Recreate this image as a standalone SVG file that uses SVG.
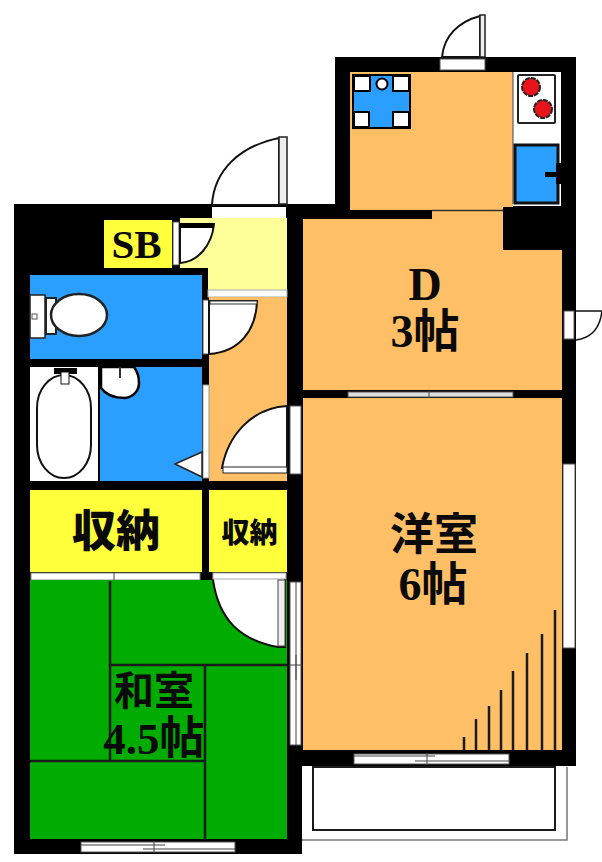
<svg xmlns="http://www.w3.org/2000/svg" width="602" height="862" viewBox="0 0 602 862">
<style>
.w{fill:#000}.o{fill:#ffbf66}.g{fill:#00ac00}.b{fill:#2b9fff}.y{fill:#ffff3c}.p{fill:#ffff99}.f{fill:#fff}
.s{fill:#fff;stroke:#555;stroke-width:1}
.d{fill:#fff;stroke:#111;stroke-width:2}
.l{stroke:#1a1a1a;stroke-width:2.500;fill:none}
.t{stroke:#444;stroke-width:1;fill:none}
text{font-family:"Liberation Serif","Noto Sans CJK JP",serif;font-weight:700;fill:#0a0a0a;text-anchor:middle}
.j{font-family:"Noto Sans CJK JP","Liberation Serif",serif;font-weight:900}
</style>
<rect width="602" height="862" fill="#fff"/>
<g id="walls">
<rect class="w" x="14" y="204" width="288" height="650"/>
<rect class="w" x="287" y="204" width="145" height="15"/>
<rect class="w" x="335" y="57" width="241" height="163"/>
<rect class="w" x="287" y="204" width="289" height="562"/>
</g>
<g id="kitchen">
<rect class="o" x="350" y="72" width="163" height="138"/>
<rect class="f" x="513" y="72" width="48" height="134"/>
<path class="t" d="M513 72V204"/>
<g id="table">
<rect class="b" x="353" y="75" width="57" height="53" stroke="#000" stroke-width="2"/>
<path d="M354 76h16v15h-16zM393 76h16v15h-16zM354 112h15v15h-15zM393 112h16v15h-16z" fill="#fff" stroke="#000" stroke-width="2"/>
<circle cx="382" cy="84" r="5.500" fill="#fff" stroke="#000" stroke-width="2"/>
</g>
<g id="stove">
<rect x="518" y="75" width="37" height="48" rx="1" fill="#fff" stroke="#222" stroke-width="2"/>
<circle cx="531" cy="87" r="9" fill="#e8141c" stroke="#222" stroke-width="2" stroke-dasharray="5 1"/>
<circle cx="543" cy="109" r="9" fill="#e8141c" stroke="#222" stroke-width="2" stroke-dasharray="5 1"/>
</g>
<g id="sink">
<rect class="b" x="515" y="145" width="43" height="58" stroke="#111" stroke-width="3"/>
<path d="M545 174.500H561" stroke="#000" stroke-width="5"/>
<rect class="w" x="556" y="163" width="5" height="21"/>
</g>
<g id="kitchen-door">
<rect class="s" x="440" y="59" width="45" height="11"/>
<path d="M442 57C444 36 458 22 480 16V57Z" fill="#fff" stroke="#111" stroke-width="2"/>
<rect x="480" y="15" width="5" height="42" fill="#eee" stroke="#222" stroke-width="1.500"/>
</g>
</g>
<g id="room-d">
<rect class="o" x="303" y="219" width="259" height="171"/>
<rect class="o" x="432" y="211" width="71" height="10"/>
<path d="M432 210.500H503" stroke="#333" stroke-width="1.500"/>
<path class="w" d="M503 207H562V250H503Z"/>
<rect x="348" y="392" width="165" height="5" fill="#ddd" stroke="#555"/>
<path class="t" d="M429 391V398"/>
<text x="425" y="300" font-size="46">D</text>
<text x="425" y="347" font-size="46">3帖</text>
<g id="side-door">
<rect class="s" x="564" y="311" width="10" height="28"/>
<path d="M576 311H602C600 328 591 338 576 340" fill="#fff" stroke="#111" stroke-width="1.500"/>
</g>
</g>
<g id="room-yoshitsu">
<rect class="o" x="303" y="398" width="259" height="352"/>
<path class="l" d="M464 750V737M476 750V719M489 750V706M501 750V690M513 750V671M527 750V653M542 750V634M555 750V610"/>
<text x="434" y="550" font-size="44">洋室</text>
<text x="433" y="600" font-size="46">6帖</text>
</g>
<g id="balcony">
<path class="f" d="M302 766H567V840H302Z"/>
<rect x="313" y="767" width="242" height="63" fill="none" stroke="#1a1a1a" stroke-width="2"/>
<path d="M302 840H567V767" fill="none" stroke="#777" stroke-width="1.500"/>
<rect class="s" x="354" y="754" width="155" height="10"/>
<path class="t" d="M354 756H435M415 761H509M427 753V765"/>
<rect class="s" x="563" y="464" width="12" height="184"/>
</g>
<g id="entry">
<rect class="p" x="180" y="218" width="107" height="50"/>
<rect class="p" x="208" y="268" width="79" height="22"/>
<rect class="f" x="212" y="207" width="74" height="11"/>
<path class="d" d="M212 205C214 170 240 146 279 138V205Z"/>
<rect x="279" y="137" width="8" height="67" fill="#eee" stroke="#222" stroke-width="1.500"/>
<rect class="f" x="208" y="290" width="79" height="7" stroke="#aaa"/>
</g>
<g id="sb">
<rect class="y" x="104" y="220" width="68" height="48"/>
<text x="136.500" y="258" font-size="41">SB</text>
<rect class="s" x="173" y="222" width="6" height="43"/>
<path class="d" d="M180 263C198 262 212 245 214 224H180Z"/>
<rect class="w" x="180" y="223" width="34" height="5"/>
</g>
<g id="toilet">
<rect class="b" x="30" y="275" width="172" height="84"/>
<rect x="30" y="295" width="15" height="43" fill="#fff" stroke="#222" stroke-width="1.500"/>
<rect x="32" y="314" width="5" height="5" fill="#fff" stroke="#555"/>
<rect x="46" y="298" width="10" height="36" fill="#fff" stroke="#222" stroke-width="2"/>
<ellipse cx="79" cy="315" rx="28" ry="21" fill="#fff" stroke="#222" stroke-width="2.500"/>
</g>
<g id="hall">
<rect class="o" x="209" y="297" width="78" height="184"/>
<rect class="s" x="203" y="300" width="6" height="54"/>
<path class="d" d="M209 301H257C256 330 240 352 209 354Z"/>
<rect class="f" x="210" y="301" width="47" height="3" stroke="#333"/>
<path class="d" d="M287 406C252 408 228 435 222 468H287Z"/>
<rect x="223" y="467" width="64" height="6" fill="#fff" stroke="#222"/>
<rect class="s" x="290" y="406" width="11" height="68"/>
</g>
<g id="bath">
<rect class="f" x="30" y="367" width="68" height="114"/>
<rect class="b" x="100" y="367" width="102" height="114"/>
<rect x="37" y="375" width="54" height="103" rx="27" ry="33" fill="#fff" stroke="#111" stroke-width="2"/>
<rect class="w" x="54" y="368" width="23" height="6"/>
<rect x="61" y="372" width="8" height="12" fill="#fff" stroke="#111"/>
<path d="M101 367V388C106 395 115 398 125 398C134 397 139 390 139 383C139 376 137 371 134 367Z" fill="#fff" stroke="#000" stroke-width="2.500"/>
<path d="M120 367V378" stroke="#333" stroke-width="2"/>
<rect class="f" x="203" y="385" width="6" height="93" stroke="#999"/>
<path d="M202 452L175 464L202 477Z" fill="#fff" stroke="#222" stroke-width="1.500"/>
</g>
<g id="storage-large">
<rect class="y" x="30" y="490" width="172" height="82"/>
<text class="j" x="116" y="547" font-size="44">収納</text>
<rect class="f" x="31" y="573" width="169" height="7" stroke="#888"/>
<path class="t" d="M114 573V580"/>
</g>
<g id="storage-small">
<rect class="y" x="209" y="490" width="78" height="82"/>
<text class="j" x="249.500" y="543" font-size="28">収納</text>
</g>
<g id="washitsu">
<rect class="g" x="30" y="580" width="257" height="259"/>
<path class="l" d="M110 581V761M110 665H287M205 665V839M30 761H205"/>
<path class="d" d="M213 580C219 620 240 640 278 647H285V573H213Z" stroke-width="2"/>
<rect class="f" x="213" y="573" width="73" height="6" stroke="#aaa"/>
<rect x="278" y="580" width="7" height="66" fill="#eee" stroke="#444"/>
<rect class="s" x="290" y="582" width="11" height="163"/>
<path class="t" d="M296 582V745M290 665H302M296 655V680"/>
<rect class="s" x="81" y="842" width="154" height="10"/>
<path class="t" d="M81 845H165M143 849H235M154 841V853"/>
<text x="154" y="705" font-size="40">和室</text>
<text x="154" y="754" font-size="45">4.5帖</text>
</g>
</svg>
